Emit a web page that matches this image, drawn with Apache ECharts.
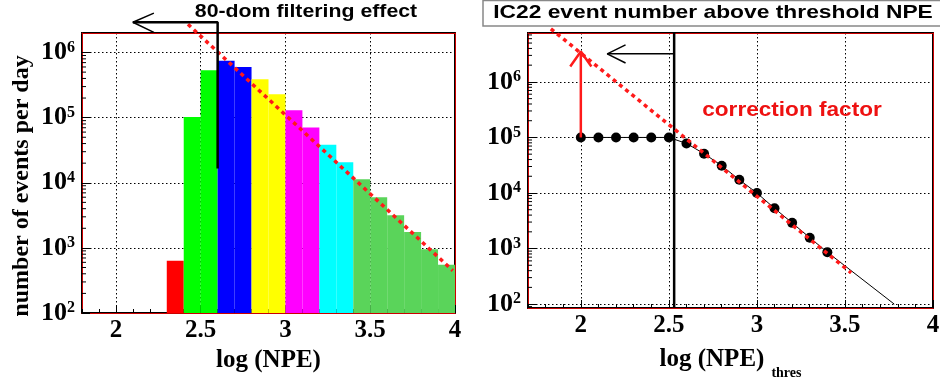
<!DOCTYPE html>
<html><head><meta charset="utf-8">
<script src="https://cdn.jsdelivr.net/npm/echarts@6/dist/echarts.min.js"></script>
<style>html,body{margin:0;padding:0;background:#fff}#c{width:940px;height:384px}</style>
</head><body><div id="c"></div>
<script>
// ---------- Left panel: histogram of events per day ----------
const histEdges  = [2.3,2.4,2.5,2.6,2.7,2.8,2.9,3.0,3.1,3.2,3.3,3.4,3.5,3.6,3.7,3.8,3.9,4.0];
const histCounts = [634, 102000, 536000, 750000, 597000, 388000, 229000, 130000, 70800,
                    38500, 20700, 11300, 6000, 3160, 1760, 955, 551];
const histColors = ['#ff0000','#00ff00','#00ff00','#0000ff','#0000ff','#ffff00','#ffff00',
                    '#ff00ff','#ff00ff','#00ffff','#00ffff',
                    '#5ad45a','#5ad45a','#5ad45a','#5ad45a','#5ad45a','#5ad45a'];
const leftFit        = [[2.425, 2716000], [3.987, 447]];
const leftCutLine    = [[2.60, 16500], [2.60, 2917000], [2.10, 2917000]];
const leftArrowHead  = [[2.224, 4030000], [2.10, 2917000], [2.224, 2040000]];
const leftXTicks = [2, 2.5, 3, 3.5, 4];
const yDecades   = [100, 1000, 10000, 100000, 1000000];

// ---------- Right panel: event number above threshold ----------
const thresX      = [2.0, 2.1, 2.2, 2.3, 2.4, 2.5, 2.6, 2.7, 2.8, 2.9, 3.0, 3.1, 3.2, 3.3, 3.4];
const thresCounts = [100000, 100000, 100000, 100000, 100000, 100000, 78000, 51000, 31000,
                     17300, 10000, 5300, 2900, 1570, 860];
const rightFitExt    = [[3.4, 860], [3.78, 100]];
const rightFit       = [[1.83, 9020000], [3.535, 366]];
const rightCut       = [[2.53, 85], [2.53, 7600000]];
const rightArrow     = [[2.53, 3200000], [2.15, 3200000]];
const rightArrowHead = [[2.254, 4640000], [2.15, 3200000], [2.254, 2190000]];
const corrArrow      = [[2.0, 100000], [2.0, 3520000]];
const corrArrowHead  = [[1.94, 1900000], [2.0, 3520000], [2.06, 1900000]];
const rightXTicks = [2, 2.5, 3, 3.5, 4];

const L = Math.log10;
const SERIF = 'Liberation Serif', SANS = 'Liberation Sans';
const LX = [1.8, 4], LY = [2, 6.30], RX = [1.7, 4], RY = [1.93, 6.88];

const toLog = arr => arr.map(p => [p[0], L(p[1])]);
const yDecLog = yDecades.map(v => Math.round(L(v)));

function minorLogTicks(ymin, ymax, x) {
  const out = [];
  for (let d = 1; d <= 7; d++) {
    for (let k = 2; k <= 9; k++) {
      const v = d + L(k);
      if (v > ymin && v < ymax) out.push([x, v]);
    }
  }
  return out;
}

function xMain(grid, ext, ticks, name, nameCfg) {
  return {
    type: 'value', gridIndex: grid, min: ext[0], max: ext[1], position: 'bottom',
    axisLine: {show: true, onZero: false, lineStyle: {color: '#cc0000', width: 1}},
    axisTick: {show: true, inside: true, length: 8, customValues: ticks, lineStyle: {color: '#000'}},
    axisLabel: {customValues: ticks, formatter: v => String(v), margin: 5, hideOverlap: false,
      fontFamily: SERIF, fontWeight: 'bold', fontSize: 25, color: '#000'},
    splitLine: {show: true, lineStyle: {color: '#000', type: [1.5, 2.5], width: 1}},
    name: name, nameLocation: 'middle', nameGap: nameCfg.gap, nameTextStyle: nameCfg.style
  };
}
function xMinor(grid, ext) {
  return {
    type: 'value', gridIndex: grid, min: ext[0], max: ext[1], interval: 0.1, position: 'bottom',
    axisLine: {show: false}, axisLabel: {show: false}, splitLine: {show: false},
    axisTick: {show: true, inside: true, length: 4, lineStyle: {color: '#000'}}
  };
}
function xTop(grid, ext) {
  return {type: 'value', gridIndex: grid, min: ext[0], max: ext[1], position: 'top',
    axisLine: {show: true, onZero: false, lineStyle: {color: '#cc0000', width: 1}},
    axisTick: {show: false}, axisLabel: {show: false}, splitLine: {show: false}};
}
function yMain(grid, ext) {
  return {
    type: 'value', gridIndex: grid, min: ext[0], max: ext[1], position: 'left',
    axisLine: {show: true, onZero: false, lineStyle: {color: '#cc0000', width: 1}},
    axisTick: {show: true, inside: true, length: 8, customValues: yDecLog, lineStyle: {color: '#000'}},
    axisLabel: {customValues: yDecLog, margin: 7,
      formatter: v => '{b|10}{s|' + Math.round(v) + '}',
      rich: {
        b: {fontFamily: SERIF, fontWeight: 'bold', fontSize: 26, color: '#000', lineHeight: 26, verticalAlign: 'bottom'},
        s: {fontFamily: SERIF, fontWeight: 'bold', fontSize: 16, color: '#000', lineHeight: 16, verticalAlign: 'top'}
      }},
    splitLine: {show: true, lineStyle: {color: '#000', type: [1.5, 2.5], width: 1}}
  };
}
function yRight(grid, ext) {
  return {type: 'value', gridIndex: grid, min: ext[0], max: ext[1], position: 'right',
    axisLine: {show: true, onZero: false, lineStyle: {color: '#cc0000', width: 1}},
    axisTick: {show: false}, axisLabel: {show: false}, splitLine: {show: false}};
}

function lineSeries(xi, yi, data, color, width, dash, extra) {
  return Object.assign({
    type: 'line', xAxisIndex: xi, yAxisIndex: yi, data: toLog(data), symbol: 'none',
    clip: false, silent: true, animation: false,
    lineStyle: {color: color, width: width, type: dash || 'solid', cap: 'butt'}, z: 5
  }, extra || {});
}

const tickSeries = (xi, yi, data) => ({
  type: 'custom', xAxisIndex: xi, yAxisIndex: yi, data: data, silent: true, animation: false, z: 6,
  encode: {x: 0, y: 1},
  renderItem: (params, api) => {
    const p = api.coord([api.value(0), api.value(1)]);
    return {type: 'line', shape: {x1: p[0], y1: p[1], x2: p[0] + 4, y2: p[1]},
      style: {stroke: '#000', lineWidth: 1}};
  }
});

const histData = histCounts.map((c, i) => [histEdges[i], histEdges[i + 1], L(c), i]);

const option = {
  backgroundColor: '#fff',
  animation: false,
  grid: [
    {left: 82, top: 33, width: 373, height: 280, show: true, borderColor: '#000', borderWidth: 2,
      backgroundColor: 'transparent', containLabel: false, outerBoundsMode: 'none'},
    {left: 528, top: 33, width: 405, height: 275, show: true, borderColor: '#000', borderWidth: 2,
      backgroundColor: 'transparent', containLabel: false, outerBoundsMode: 'none'}
  ],
  xAxis: [
    xMain(0, LX, leftXTicks, 'log (NPE)', {gap: 34, style: {fontFamily: SERIF, fontWeight: 'bold', fontSize: 25, color: '#000'}}),
    xMinor(0, LX),
    xMain(1, RX, rightXTicks, '{a|log (NPE)}{s|thres}', {gap: 39, style: {
      rich: {
        a: {fontFamily: SERIF, fontWeight: 'bold', fontSize: 25, color: '#000', lineHeight: 28, verticalAlign: 'top'},
        s: {fontFamily: SERIF, fontWeight: 'bold', fontSize: 14, color: '#000', lineHeight: 33, verticalAlign: 'bottom', padding: [0, 0, 0, 7]}
      }}}),
    xMinor(1, RX),
    xTop(0, LX),
    xTop(1, RX)
  ],
  yAxis: [
    yMain(0, LY),
    yMain(1, RY),
    yRight(0, LY),
    yRight(1, RY)
  ],
  graphic: [
    {type: 'text', x: 22, y: 186, rotation: Math.PI / 2, z: 20, style: {text: 'number of events per day',
      align: 'center', verticalAlign: 'middle', font: 'bold 24px "Liberation Serif"', fill: '#000'}},
    {type: 'text', x: 306, y: 12, z: 20, scaleX: 1.12, style: {text: '80-dom filtering effect', align: 'center', verticalAlign: 'middle',
      font: 'bold 19px "Liberation Sans"', fill: '#000'}},
    {type: 'rect', shape: {x: 483, y: 0.5, width: 470, height: 25.5}, z: 19,
      style: {fill: '#fff', stroke: '#888', lineWidth: 1.5}},
    {type: 'text', x: 713, y: 13, z: 20, scaleX: 1.2, style: {text: 'IC22 event number above threshold NPE', align: 'center', verticalAlign: 'middle',
      font: 'bold 19px "Liberation Sans"', fill: '#000'}},
    {type: 'text', x: 792, y: 110, z: 20, scaleX: 1.13, style: {text: 'correction factor', align: 'center', verticalAlign: 'middle',
      font: 'bold 20px "Liberation Sans"', fill: '#ee1111'}}
  ],
  series: [
    {
      type: 'custom', xAxisIndex: 0, yAxisIndex: 0, data: histData, silent: true, z: 2,
      encode: {x: [0, 1], y: 2},
      renderItem: (params, api) => {
        const p0 = api.coord([api.value(0), api.value(2)]);
        const p1 = api.coord([api.value(1), LY[0]]);
        return {type: 'rect', shape: {x: p0[0], y: p0[1], width: p1[0] - p0[0], height: p1[1] - p0[1]},
          style: {fill: histColors[api.value(3)]}};
      }
    },
    tickSeries(0, 0, minorLogTicks(LY[0], LY[1], LX[0])),
    tickSeries(2, 1, minorLogTicks(RY[0], RY[1], RX[0])),
    lineSeries(0, 0, leftFit, '#ff1a1a', 3.5, [4, 4]),
    lineSeries(0, 0, leftCutLine, '#000', 2.5, 'solid'),
    lineSeries(0, 0, leftArrowHead, '#000', 1.5, 'solid'),
    // right panel
    lineSeries(2, 1, rightCut, '#000', 2.5, 'solid'),
    lineSeries(2, 1, rightArrow, '#000', 1.5, 'solid'),
    lineSeries(2, 1, rightArrowHead, '#000', 1.5, 'solid'),
    lineSeries(2, 1, rightFitExt, '#000', 1, 'solid'),
    {
      type: 'line', xAxisIndex: 2, yAxisIndex: 1, silent: true, z: 6,
      data: thresX.map((x, i) => [x, L(thresCounts[i])]),
      symbol: 'circle', symbolSize: 10, itemStyle: {color: '#000'},
      lineStyle: {color: '#000', width: 1}
    },
    lineSeries(2, 1, rightFit, '#ff1a1a', 3.5, [4, 4], {z: 7}),
    lineSeries(2, 1, corrArrow, '#ff1a1a', 2.5, 'solid', {z: 8}),
    lineSeries(2, 1, corrArrowHead, '#ff1a1a', 2.5, 'solid', {z: 8})
  ]
};

const chart = echarts.init(document.getElementById('c'));
chart.setOption(option);
</script>
</body></html>
